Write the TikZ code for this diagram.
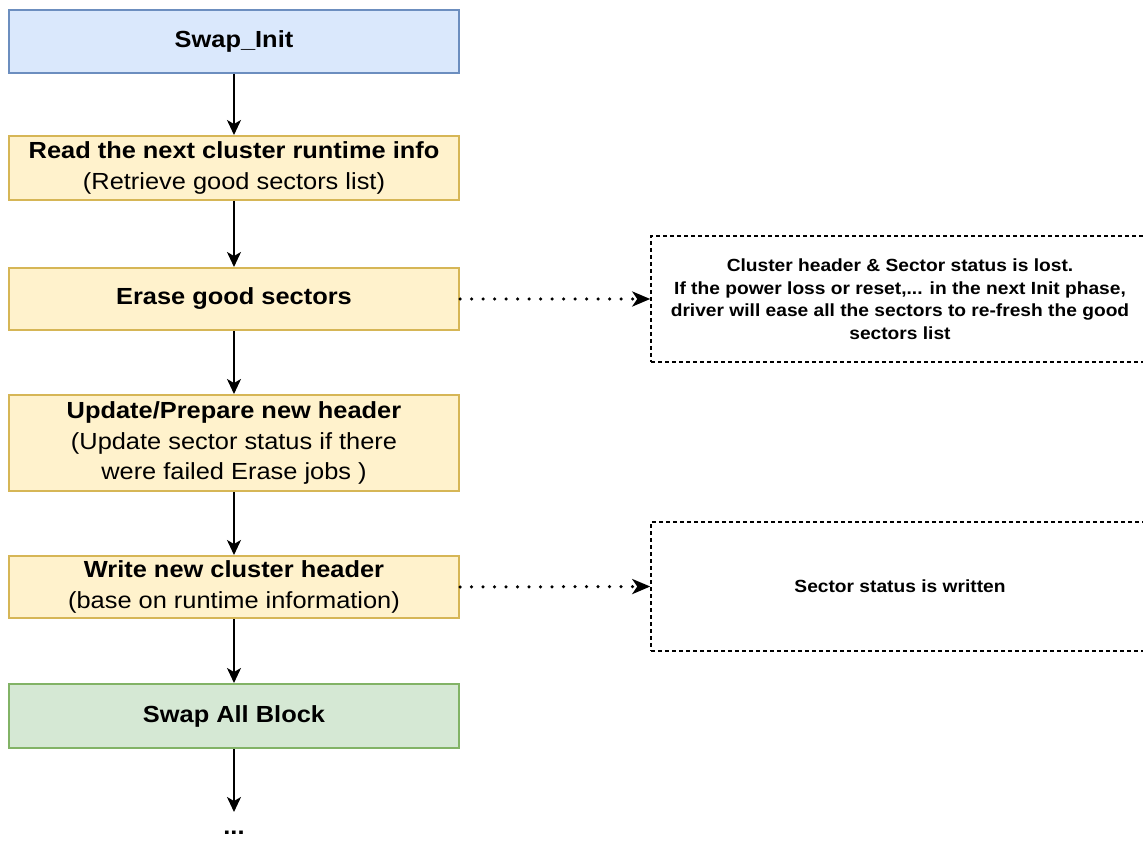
\documentclass[tikz,border=0pt]{standalone}
\usepackage{fontspec}
\setmainfont{Liberation Sans}[FakeStretch=1.09]
\usetikzlibrary{arrows.meta}
\definecolor{bluefill}{HTML}{DAE8FC}
\definecolor{bluedraw}{HTML}{6C8EBF}
\definecolor{yelfill}{HTML}{FFF2CC}
\definecolor{yeldraw}{HTML}{D6B656}
\definecolor{grnfill}{HTML}{D5E8D4}
\definecolor{grndraw}{HTML}{82B366}
\tikzset{
  box/.style={rectangle, minimum width=450pt, inner sep=0pt, line width=2pt, align=center,
    font=\fontsize{23.3}{30.5}\selectfont, text=black},
  bluebox/.style={box, fill=bluefill, draw=bluedraw},
  yelbox/.style={box, fill=yelfill, draw=yeldraw},
  grnbox/.style={box, fill=grnfill, draw=grndraw},
  note/.style={rectangle, draw=black, line width=1.5pt, dash pattern=on 4pt off 3pt,
    minimum width=498pt, inner sep=0pt, align=center, font=\fontsize{17.6}{22.5}\selectfont\bfseries},
  flow/.style={line width=1.6pt, -{Stealth[length=15pt,width=14pt,inset=4pt]}},
  dotflow/.style={line width=3.5pt, line cap=round, dash pattern=on 0pt off 11.5pt,
    -{Stealth[length=18pt,width=15pt,inset=5pt]}},
}
\begin{document}
\begin{tikzpicture}[x=1pt,y=-1pt]
\useasboundingbox (0,0) rectangle (1143,842);
\clip (0,0) rectangle (1143,842);
\node[bluebox, minimum height=63pt] (init) at (234,41.5) {\bfseries Swap\_Init};
\node[yelbox, minimum height=64pt] (read) at (234,168) {\bfseries Read the next cluster runtime info\\(Retrieve good sectors list)};
\node[yelbox, minimum height=62pt] (erase) at (234,299) {\bfseries Erase good sectors};
\node[yelbox, minimum height=96pt] (update) at (234,443) {\bfseries Update/Prepare new header\\(Update sector status if there\\were failed Erase jobs )};
\node[yelbox, minimum height=62pt] (write) at (234,587) {\bfseries Write new cluster header\\(base on runtime information)};
\node[grnbox, minimum height=64pt] (swapall) at (234,716) {\bfseries Swap All Block};
\node[font=\fontsize{23.3}{28}\selectfont\bfseries, inner sep=0pt] (dots) at (234,833) {...};
\coordinate (end) at (234,812);

\node[note, minimum height=126pt] (note1) at (900,299) {Cluster header \& Sector status is lost.\\If the power loss or reset,... in the next Init phase,\\driver will ease all the sectors to re-fresh the good\\sectors list};
\node[note, minimum height=129pt] (note2) at (900,586.5) {Sector status is written};

\draw[flow] (init) -- (read);
\draw[flow] (read) -- (erase);
\draw[flow] (erase) -- (update);
\draw[flow] (update) -- (write);
\draw[flow] (write) -- (swapall);
\draw[flow] (swapall) -- (end);
\draw[dotflow] (erase.east) -- (note1.west);
\draw[dotflow] (write.east) -- (note2.west);
\end{tikzpicture}
\end{document}
